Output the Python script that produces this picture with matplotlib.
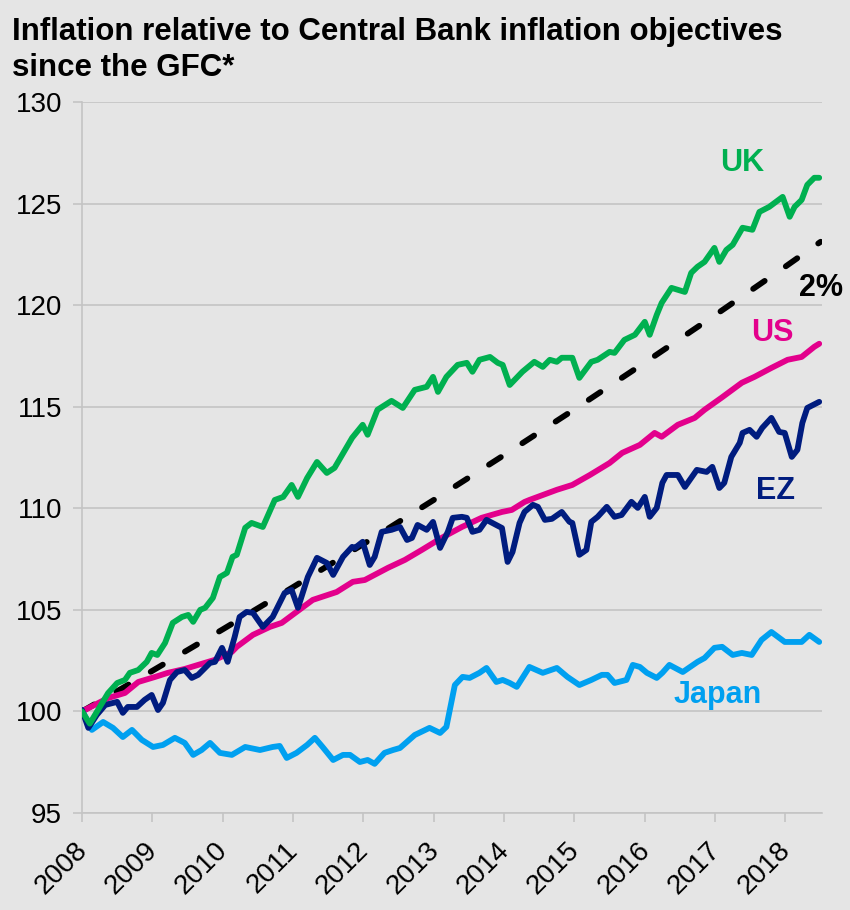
import matplotlib.pyplot as plt
from matplotlib.transforms import ScaledTranslation

plt.rcParams['font.family'] = ['Liberation Sans', 'DejaVu Sans']

# index levels, Jan 2008 = 100 (x in fractional years)
uk_t = [2008.00, 2008.11, 2008.37, 2008.50, 2008.61, 2008.68, 2008.80, 2008.92, 2008.99, 2009.07,
        2009.18, 2009.29, 2009.42, 2009.51, 2009.58, 2009.68, 2009.75, 2009.86, 2009.96, 2010.06,
        2010.14, 2010.20, 2010.32, 2010.41, 2010.57, 2010.74, 2010.86, 2010.98, 2011.07, 2011.20,
        2011.34, 2011.48, 2011.59, 2011.84, 2011.99, 2012.06, 2012.20, 2012.40, 2012.56, 2012.73,
        2012.90, 2012.99, 2013.06, 2013.18, 2013.34, 2013.47, 2013.55, 2013.65, 2013.80, 2013.91,
        2013.98, 2014.08, 2014.26, 2014.43, 2014.55, 2014.65, 2014.75, 2014.82, 2014.97, 2015.07,
        2015.24, 2015.33, 2015.50, 2015.57, 2015.71, 2015.86, 2016.00, 2016.07, 2016.17, 2016.24,
        2016.38, 2016.57, 2016.66, 2016.75, 2016.85, 2016.99, 2017.06, 2017.16, 2017.25, 2017.39,
        2017.53, 2017.63, 2017.77, 2017.96, 2018.06, 2018.13, 2018.23, 2018.31, 2018.41, 2018.48]
uk_v = [100.0, 99.4, 100.9, 101.4, 101.55, 101.9, 102.04, 102.44, 102.88, 102.78,
        103.37, 104.36, 104.65, 104.75, 104.41, 105.0, 105.1, 105.59, 106.62, 106.82,
        107.61, 107.71, 109.04, 109.28, 109.08, 110.41, 110.56, 111.15, 110.56, 111.49,
        112.28, 111.74, 111.99, 113.47, 114.11, 113.62, 114.85, 115.29, 114.94, 115.83,
        115.98, 116.47, 115.73, 116.47, 117.06, 117.16, 116.72, 117.31, 117.45, 117.16,
        117.06, 116.07, 116.72, 117.21, 116.96, 117.31, 117.21, 117.41, 117.41, 116.42,
        117.21, 117.31, 117.7, 117.65, 118.29, 118.54, 119.18, 118.54, 119.52, 120.11,
        120.85, 120.65, 121.59, 121.89, 122.13, 122.82, 122.13, 122.72, 122.97, 123.81,
        123.71, 124.59, 124.84, 125.33, 124.35, 124.84, 125.18, 125.92, 126.27, 126.27]

ez_t = [2008.00, 2008.09, 2008.21, 2008.33, 2008.50, 2008.58, 2008.65, 2008.78, 2008.89, 2008.99,
        2009.08, 2009.15, 2009.25, 2009.35, 2009.46, 2009.56, 2009.65, 2009.82, 2009.89, 2009.99,
        2010.07, 2010.17, 2010.24, 2010.34, 2010.43, 2010.57, 2010.71, 2010.88, 2010.98, 2011.07,
        2011.21, 2011.34, 2011.48, 2011.57, 2011.71, 2011.84, 2011.88, 2011.99, 2012.09, 2012.16,
        2012.26, 2012.40, 2012.52, 2012.62, 2012.69, 2012.77, 2012.90, 2012.99, 2013.09, 2013.20,
        2013.27, 2013.40, 2013.47, 2013.55, 2013.65, 2013.75, 2013.97, 2014.05, 2014.12, 2014.22,
        2014.29, 2014.41, 2014.48, 2014.58, 2014.68, 2014.82, 2014.93, 2014.97, 2015.07, 2015.17,
        2015.24, 2015.33, 2015.46, 2015.57, 2015.67, 2015.81, 2015.90, 2016.00, 2016.07, 2016.17,
        2016.25, 2016.31, 2016.47, 2016.57, 2016.74, 2016.88, 2016.96, 2017.06, 2017.13, 2017.23,
        2017.35, 2017.39, 2017.49, 2017.59, 2017.67, 2017.80, 2017.91, 2017.99, 2018.09, 2018.17,
        2018.24, 2018.31, 2018.48]
ez_v = [100.07, 99.19, 99.83, 100.32, 100.47, 99.93, 100.22, 100.22, 100.57, 100.81,
        100.07, 100.42, 101.55, 101.94, 102.04, 101.65, 101.8, 102.39, 102.44, 103.13,
        102.44, 103.67, 104.65, 104.9, 104.85, 104.16, 104.65, 105.83, 105.98, 105.1,
        106.62, 107.56, 107.31, 106.72, 107.61, 108.1, 108.05, 108.35, 107.21, 107.61,
        108.84, 108.94, 109.08, 108.44, 108.54, 109.18, 108.94, 109.33, 108.05, 108.84,
        109.53, 109.58, 109.53, 108.84, 108.94, 109.43, 109.03, 107.36, 107.85, 109.28,
        109.82, 110.17, 110.07, 109.43, 109.48, 109.82, 109.33, 109.28, 107.71, 107.95,
        109.33, 109.58, 110.07, 109.58, 109.67, 110.32, 110.02, 110.56, 109.58, 110.02,
        111.25, 111.64, 111.64, 111.05, 111.89, 111.79, 112.04, 111.0, 111.25, 112.53,
        113.22, 113.71, 113.86, 113.52, 113.96, 114.45, 113.76, 113.71, 112.53, 112.88,
        114.2, 114.94, 115.24]

us_t = [2008.00, 2008.37, 2008.61, 2008.80, 2009.04, 2009.22, 2009.46, 2009.65, 2009.89, 2010.13,
        2010.20, 2010.43, 2010.67, 2010.84, 2011.05, 2011.28, 2011.62, 2011.85, 2012.02, 2012.35,
        2012.59, 2012.83, 2013.11, 2013.40, 2013.68, 2013.97, 2014.11, 2014.29, 2014.36, 2014.75,
        2014.97, 2015.22, 2015.50, 2015.68, 2015.93, 2016.14, 2016.24, 2016.47, 2016.71, 2016.85,
        2017.09, 2017.38, 2017.56, 2017.80, 2018.03, 2018.23, 2018.41, 2018.48]
us_v = [100.0, 100.66, 100.91, 101.45, 101.7, 101.9, 102.09, 102.29, 102.54, 102.93,
        103.18, 103.77, 104.16, 104.36, 104.9, 105.49, 105.88, 106.38, 106.47, 107.07,
        107.46, 107.95, 108.54, 109.08, 109.53, 109.82, 109.92, 110.31, 110.41, 110.91,
        111.15, 111.64, 112.23, 112.73, 113.12, 113.71, 113.52, 114.11, 114.45, 114.85,
        115.44, 116.18, 116.47, 116.91, 117.31, 117.45, 117.95, 118.1]

jp_t = [2008.00, 2008.14, 2008.30, 2008.44, 2008.58, 2008.71, 2008.85, 2009.01, 2009.15, 2009.32,
        2009.46, 2009.58, 2009.70, 2009.82, 2009.96, 2010.13, 2010.32, 2010.53, 2010.71, 2010.81,
        2010.91, 2011.05, 2011.20, 2011.31, 2011.42, 2011.57, 2011.71, 2011.81, 2011.95, 2012.06,
        2012.16, 2012.30, 2012.42, 2012.52, 2012.73, 2012.94, 2013.09, 2013.18, 2013.30, 2013.41,
        2013.51, 2013.65, 2013.75, 2013.89, 2013.98, 2014.08, 2014.18, 2014.36, 2014.55, 2014.75,
        2014.90, 2015.07, 2015.24, 2015.39, 2015.47, 2015.57, 2015.74, 2015.83, 2015.93, 2016.03,
        2016.17, 2016.25, 2016.35, 2016.54, 2016.75, 2016.85, 2016.99, 2017.10, 2017.25, 2017.38,
        2017.52, 2017.66, 2017.80, 2017.99, 2018.23, 2018.34, 2018.48]
jp_v = [100.07, 99.09, 99.48, 99.19, 98.74, 99.09, 98.6, 98.25, 98.35, 98.7,
        98.45, 97.86, 98.1, 98.45, 97.96, 97.86, 98.25, 98.1, 98.25, 98.3,
        97.71, 97.96, 98.35, 98.7, 98.25, 97.61, 97.86, 97.86, 97.51, 97.61,
        97.42, 97.96, 98.1, 98.2, 98.84, 99.19, 98.94, 99.24, 101.3, 101.7,
        101.65, 101.9, 102.14, 101.45, 101.55, 101.4, 101.21, 102.19, 101.9, 102.14,
        101.7, 101.3, 101.55, 101.8, 101.8, 101.4, 101.55, 102.29, 102.19, 101.9,
        101.65, 101.9, 102.29, 101.94, 102.44, 102.63, 103.13, 103.18, 102.78, 102.88,
        102.78, 103.52, 103.91, 103.42, 103.42, 103.77, 103.42]

# 2% a year path from the Jan 2008 base
target_t = [2008, 2009, 2010, 2011, 2012, 2013, 2014, 2015, 2016, 2017, 2018, 2018.5]
target_v = [100.0, 102.0, 104.04, 106.12, 108.24, 110.41, 112.62, 114.87, 117.17, 119.51, 121.9, 123.12]

years = list(range(2008, 2019))
yticks = [95, 100, 105, 110, 115, 120, 125, 130]

bg = '#e5e5e5'
grid_col = '#c4c4c4'
c_uk = '#00b050'
c_us = '#e3008c'
c_ez = '#001c7f'
c_jp = '#00a0f0'

fig = plt.figure(figsize=(8.5, 9.1), dpi=100, facecolor=bg)
ax = fig.add_axes([0.0965, 0.1066, 0.8706, 0.7813], facecolor=bg)

lw = 4.2
line_kw = dict(lw=lw, solid_capstyle='round', solid_joinstyle='round')
ax.plot(target_t, target_v, color='black', lw=lw, dashes=(2.4, 4.4),
        dash_capstyle='round', zorder=3)
ax.plot(jp_t, jp_v, color=c_jp, zorder=3, **line_kw)
ax.plot(us_t, us_v, color=c_us, zorder=4, **line_kw)
ax.plot(ez_t, ez_v, color=c_ez, zorder=5, **line_kw)
ax.plot(uk_t, uk_v, color=c_uk, zorder=6, **line_kw)

ax.set_xlim(2008, 2018.52)
ax.set_ylim(95, 130)
ax.set_yticks(yticks)
ax.set_xticks(years)
ax.set_xticklabels([str(y) for y in years], rotation=45, ha='right', va='top',
                   rotation_mode='anchor')
ax.tick_params(axis='both', labelsize=20, color=grid_col, width=1.2, length=6.5)
ax.tick_params(axis='y', pad=8)
ax.tick_params(axis='x', pad=11)
# nudge the slanted year labels left of their ticks
shift = ScaledTranslation(-8 / 100, 0, fig.dpi_scale_trans)
for t in ax.get_xticklabels():
    t.set_transform(t.get_transform() + shift)
ax.grid(axis='y', color=grid_col, lw=1.2, zorder=0)
for s in ['top', 'right']:
    ax.spines[s].set_visible(False)
for s in ['left', 'bottom']:
    ax.spines[s].set_color(grid_col)
    ax.spines[s].set_linewidth(1.2)

lab = dict(fontsize=22, fontweight='bold', ha='center', va='center')
ax.text(2017.38, 127.0, 'UK', color=c_uk, **lab)
ax.text(2018.51, 120.85, '2%', color='black', clip_on=False, **lab)
ax.text(2017.82, 118.63, 'US', color=c_us, **lab)
ax.text(2017.86, 110.86, 'EZ', color=c_ez, **lab)
ax.text(2017.03, 100.81, 'Japan', color=c_jp, **lab)

fig.text(0.014, 0.981, 'Inflation relative to Central Bank inflation objectives\nsince the GFC*',
         fontsize=22.5, fontweight='bold', ha='left', va='top', linespacing=1.25)

fig.savefig('out.png', dpi=100, facecolor=bg)
